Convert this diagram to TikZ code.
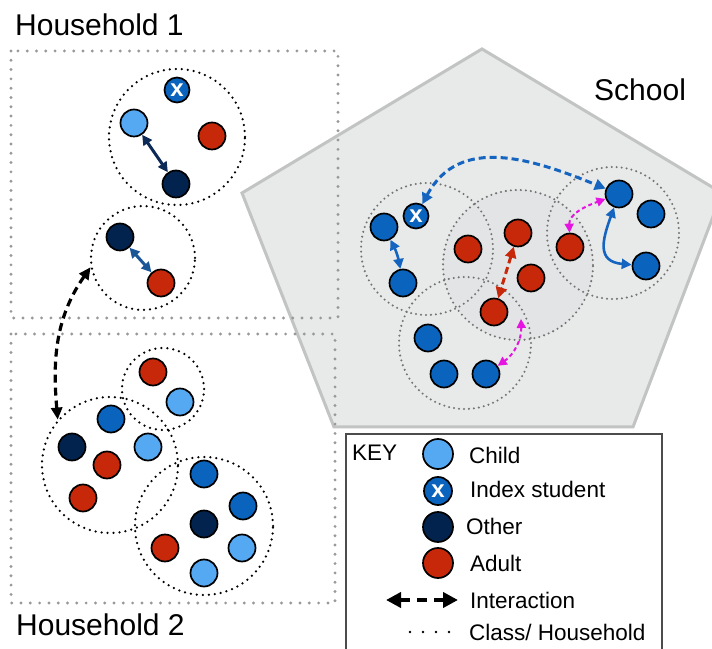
\documentclass[tikz,border=0pt]{standalone}
\usepackage{fontspec}
\setmainfont{Liberation Sans}
\usetikzlibrary{arrows.meta}
\definecolor{kidc}{HTML}{55A8F2}
\definecolor{bluec}{HTML}{0A64BE}
\definecolor{othc}{HTML}{03234F}
\definecolor{adc}{HTML}{C8280A}
\definecolor{schfill}{HTML}{E8E9E9}
\definecolor{schline}{HTML}{C2C3C3}
\definecolor{midfill}{HTML}{E3E4E5}
\definecolor{magc}{HTML}{E614E0}
\definecolor{navyarr}{HTML}{0D2A57}
\definecolor{medarr}{HTML}{1B5797}
\definecolor{schblue}{HTML}{1565C0}
\tikzset{
  person/.style={circle, draw=black, line width=1.7pt, minimum size=27pt, inner sep=0pt},
  kidnode/.style={person, fill=kidc},
  bluenode/.style={person, fill=bluec},
  othnode/.style={person, fill=othc},
  adnode/.style={person, fill=adc},
  idxnode/.style={person, fill=bluec, minimum size=25pt, text=white, font=\fontsize{24}{24}\selectfont\bfseries},
  hhclass/.style={circle, draw=black, line width=2.5pt, dash pattern=on 0pt off 6pt, line cap=round, inner sep=0pt},
  scclass/.style={circle, draw=black!55, line width=2.3pt, dash pattern=on 0pt off 5pt, line cap=round, inner sep=0pt},
  hhbox/.style={draw=black!40, line width=3.2pt, dash pattern=on 0pt off 9.3pt, line cap=round},
  bigtxt/.style={anchor=base west, inner sep=0pt, font=\fontsize{30}{30}\selectfont},
  keytxt/.style={anchor=base west, inner sep=0pt, font=\fontsize{22.5}{22.5}\selectfont},
  solarr/.style={line width=3pt, {Triangle[length=10pt,width=10pt]}-{Triangle[length=10pt,width=10pt]}},
  dasharr/.style={line width=3pt, dash pattern=on 7pt off 4pt, {Triangle[length=11pt,width=11pt]}-{Triangle[length=11pt,width=11pt]}},
  magarr/.style={magc, line width=2pt, dash pattern=on 4pt off 3pt, {Triangle[length=9pt,width=9pt]}-{Triangle[length=9pt,width=9pt]}}
}
\begin{document}
\begin{tikzpicture}[x=1pt,y=1pt]
\useasboundingbox (0,0) rectangle (712,648);
\clip (0,0) rectangle (712,648);
\fill[white] (0,0) rectangle (712,648);
% School pentagon
\draw[fill=schfill, draw=schline, line width=3pt, line join=miter] (482,599) -- (722,455) -- (633,221) -- (334,221) -- (242,455) -- cycle;
\node[bigtxt] (schooltxt) at (594,547) {School};
% household boxes
\draw[hhbox] (11,597) rectangle (338,330);
\draw[hhbox] (11,314) rectangle (335,45);
\node[bigtxt] (hh1txt) at (15,612) {Household 1};
\node[bigtxt] (hh2txt) at (16,13) {Household 2};
% school classes
\node[circle, fill=midfill, minimum size=150pt, inner sep=0pt] (cmidfill) at (518,383) {};
\node[scclass, minimum size=132pt] (cleft) at (427,399) {};
\node[scclass, minimum size=150pt] (cmid) at (518,383) {};
\node[scclass, minimum size=132pt] (cright) at (613,415) {};
\node[scclass, minimum size=132pt] (cbot) at (465,305) {};
% school people
\node[idxnode] (sx) at (416,432) {x};
\node[bluenode] (sb1) at (384,421) {};
\node[bluenode] (sb2) at (403,365) {};
\node[adnode] (sm1) at (468,399) {};
\node[adnode] (sm2) at (518,415) {};
\node[adnode] (sm3) at (531,370) {};
\node[adnode] (sm4) at (494,336) {};
\node[adnode] (srr) at (570,401) {};
\node[bluenode] (sr1) at (619,454) {};
\node[bluenode] (sr2) at (651,434) {};
\node[bluenode] (sr3) at (646,382) {};
\node[bluenode] (sbt1) at (428,310) {};
\node[bluenode] (sbt2) at (444,274) {};
\node[bluenode] (sbt3) at (486,274) {};
\coordinate (magfree) at (521,329);
% school arrows
\draw[dasharr, schblue] (sx) to[out=62, in=158, looseness=1.1] (sr1);
\draw[solarr, schblue, line width=2.6pt] (sb1) to[bend left=8] (sb2);
\draw[solarr, schblue, line width=2.6pt] (sr1) to[out=250, in=175, looseness=1.5] (sr3);
\draw[dasharr, adc] (sm2) -- (sm4);
\draw[magarr] (srr) to[out=92, in=200] (sr1);
\draw[magarr] (magfree) to[out=272, in=35] (sbt3);
% Household 1
\node[hhclass, minimum size=136pt] (h1a) at (177,511) {};
\node[hhclass, minimum size=104pt] (h1b) at (143,390) {};
\node[idxnode] (h1x) at (177,558) {x};
\node[kidnode] (h1k) at (134,525) {};
\node[adnode] (h1ad) at (212,512) {};
\node[othnode] (h1o) at (176,464) {};
\node[othnode] (h1o2) at (120,411) {};
\node[adnode] (h1ad2) at (161,365) {};
\draw[solarr, navyarr] (h1k) -- (h1o);
\draw[solarr, medarr] (h1o2) -- (h1ad2);
% Household 2
\node[hhclass, minimum size=82pt] (h2s) at (163,259) {};
\node[hhclass, minimum size=136pt] (h2l) at (110,183) {};
\node[hhclass, minimum size=138pt] (h2r) at (204,122) {};
\node[adnode] (h2a1) at (153,276) {};
\node[kidnode] (h2k1) at (180,246) {};
\node[bluenode] (h2b1) at (111,229) {};
\node[othnode] (h2o1) at (72,201) {};
\node[kidnode] (h2k2) at (148,201) {};
\node[adnode] (h2a2) at (107,183) {};
\node[adnode] (h2a3) at (83,150) {};
\node[bluenode] (h2b2) at (204,174) {};
\node[bluenode] (h2b3) at (243,142) {};
\node[othnode] (h2o2) at (204,124) {};
\node[adnode] (h2a4) at (165,100) {};
\node[kidnode] (h2k3) at (242,100) {};
\node[kidnode] (h2k4) at (204,75) {};
\draw[line width=3.2pt, dash pattern=on 8pt off 5pt, {Triangle[length=12pt,width=11pt]}-{Triangle[length=12pt,width=11pt]}] (h1b.190) to[out=235, in=95] (h2l.139);
% Key
\draw[draw=black!70, line width=1.3pt, fill=white] (346,214) rectangle (662,-10);
\node[keytxt] (keytxt) at (352,187) {KEY};
\node[kidnode, minimum size=30pt] (kk) at (438,194) {};
\node[idxnode, minimum size=28pt] (kx) at (438,157) {x};
\node[othnode, minimum size=30pt] (ko) at (438,121) {};
\node[adnode, minimum size=30pt] (ka) at (438,85) {};
\node[keytxt] (tk) at (469,184) {Child};
\node[keytxt] (tx) at (470,150) {Index student};
\node[keytxt] (to) at (466,113) {Other};
\node[keytxt] (ta) at (470,77) {Adult};
\node[keytxt] (ti) at (470,40) {Interaction};
\node[keytxt] (tc) at (469,8) {Class/ Household};
\coordinate (ka1) at (386,48);
\coordinate (ka2) at (458,48);
\draw[line width=4pt, dash pattern=on 10pt off 7pt, {Triangle[length=15pt,width=15pt]}-{Triangle[length=15pt,width=15pt]}] (ka1) -- (ka2);
\coordinate (kd1) at (410,16);
\coordinate (kd2) at (451,16);
\draw[line width=2.6pt, dash pattern=on 0pt off 13pt, line cap=round] (kd1) -- (kd2);
\end{tikzpicture}
\end{document}
